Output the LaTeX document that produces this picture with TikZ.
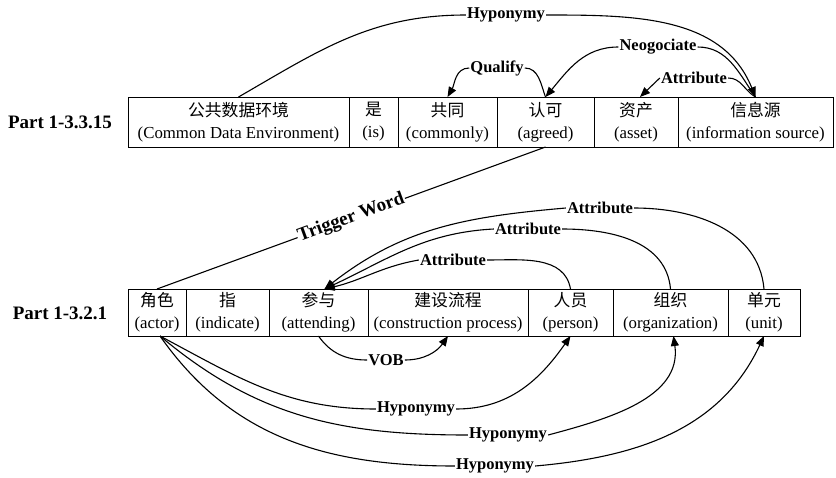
\documentclass[tikz,border=0pt]{standalone}
\usepackage{fontspec}
\setmainfont{Liberation Serif}
\newfontfamily\cjkfont{Noto Sans CJK SC}
\usepackage{tikz}
\usetikzlibrary{arrows.meta, positioning}

\begin{document}
\begin{tikzpicture}[
    x=1pt, y=-1pt,
    cell/.style={rectangle, draw, line width=0.9pt, minimum height=#1,
        inner sep=0pt, outer sep=0pt, align=center,
        font=\fontsize{16.8}{22}\selectfont},
    cell/.default=50pt,
    part/.style={font=\bfseries\fontsize{19}{19}\selectfont, inner sep=1pt},
    rel/.style={font=\bfseries\fontsize{16.5}{16.5}\selectfont, inner sep=1pt},
    link/.style={line width=1.1pt},
    arrow/.style={link, -{Triangle[length=10pt,width=8pt]}}
]
\useasboundingbox (0,0) rectangle (836,477);

% === SENTENCE 1-3.3.15 ===
\node[part] (p1) at (60,122) {Part 1-3.3.15};
\node[cell, minimum width=221pt, anchor=north west] (cde) at (128,97)
    {{\cjkfont 公共数据环境}\\(Common Data Environment)};
\node[cell, minimum width=49pt, right=0pt of cde] (is) {{\cjkfont 是}\\(is)};
\node[cell, minimum width=99pt, right=0pt of is] (commonly) {{\cjkfont 共同}\\(commonly)};
\node[cell, minimum width=97pt, right=0pt of commonly] (agreed) {{\cjkfont 认可}\\(agreed)};
\node[cell, minimum width=84pt, right=0pt of agreed] (asset) {{\cjkfont 资产}\\(asset)};
\node[cell, minimum width=155pt, right=0pt of asset] (infosrc)
    {{\cjkfont 信息源}\\(information source)};

% relations above the first sentence
\node[rel] (hyptop) at (506,15) {Hyponymy};
\node[rel] (neg) at (658,47) {Neogociate};
\node[rel] (attrtop) at (694,78) {Attribute};
\node[rel] (qual) at (497,68) {Qualify};

\draw[link] (cde.north) to[out=30,in=180] (hyptop.west);
\draw[arrow] (hyptop.east) to[out=0,in=112] (infosrc.north);
\draw[link] (infosrc.north) to[out=125,in=0] (neg.east);
\draw[arrow] (neg.west) to[out=180,in=50] (agreed.north);
\draw[link] (infosrc.north) to[out=150,in=0] (attrtop.east);
\draw[arrow] (attrtop.west) -- ([xshift=4pt]asset.north);
\draw[link] (agreed.north) to[out=110,in=0] (qual.east);
\draw[arrow] (qual.west) to[out=180,in=60] (commonly.north);

% === SENTENCE 1-3.2.1 ===
\node[part] (p2) at (60,313) {Part 1-3.2.1};
\node[cell=47pt, minimum width=58pt, anchor=north west] (actor) at (128,289)
    {{\cjkfont 角色}\\(actor)};
\node[cell=47pt, minimum width=83pt, right=0pt of actor] (indicate) {{\cjkfont 指}\\(indicate)};
\node[cell=47pt, minimum width=99pt, right=0pt of indicate] (attend) {{\cjkfont 参与}\\(attending)};
\node[cell=47pt, minimum width=160pt, right=0pt of attend] (process)
    {{\cjkfont 建设流程}\\(construction process)};
\node[cell=47pt, minimum width=85pt, right=0pt of process] (person) {{\cjkfont 人员}\\(person)};
\node[cell=47pt, minimum width=115pt, right=0pt of person] (org) {{\cjkfont 组织}\\(organization)};
\node[cell=47pt, minimum width=72pt, right=0pt of org] (unit) {{\cjkfont 单元}\\(unit)};

% trigger word between the two sentences
\draw[link] (agreed.south) -- node[rel, sloped, fill=white,
    font=\bfseries\fontsize{19}{19}\selectfont] (trig) {Trigger Word} (actor.north);

% attributes of the participants
\node[rel] (attra) at (453,260) {Attribute};
\node[rel] (attrb) at (528,229) {Attribute};
\node[rel] (attrc) at (600,208) {Attribute};

\draw[link] (person.north) to[out=100,in=0] (attra.east);
\draw[arrow] (attra.west) to[out=190,in=13] ([xshift=6pt]attend.north);
\draw[link] (org.north) to[out=95,in=0] (attrb.east);
\draw[arrow] (attrb.west) to[out=183,in=25] ([xshift=6pt]attend.north);
\draw[link] (unit.north) to[out=95,in=0] (attrc.east);
\draw[arrow] (attrc.west) to[out=185,in=38] ([xshift=6pt]attend.north);

% verb-object
\node[rel] (vob) at (386,360) {VOB};
\draw[link] (attend.south) to[out=-55,in=180] (vob.west);
\draw[arrow] (vob.east) to[out=0,in=-125] (process.south);

% hyponyms of the actor
\node[rel] (hypa) at (416,409) {Hyponymy};
\node[rel] (hypb) at (508,435) {Hyponymy};
\node[rel] (hypc) at (495,466) {Hyponymy};

\draw[link] ([xshift=3pt]actor.south) to[out=-28,in=180] (hypa.west);
\draw[arrow] (hypa.east) to[out=0,in=-125] (person.south);
\draw[link] ([xshift=3pt]actor.south) to[out=-40,in=180] (hypb.west);
\draw[arrow] (hypb.east) to[out=15,in=-82] ([xshift=3pt]org.south);
\draw[link] ([xshift=3pt]actor.south) to[out=-55,in=180] (hypc.west);
\draw[arrow] (hypc.east) to[out=5,in=-115] (unit.south);

\end{tikzpicture}
\end{document}
